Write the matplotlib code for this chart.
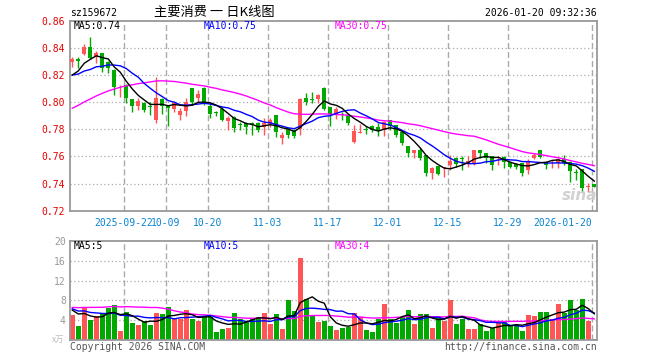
import numpy as np
import pandas as pd
import matplotlib
matplotlib.use("Agg")
import matplotlib.pyplot as plt

# daily candles, 2025-09-09 .. 2026-01-20 (88 trading days)
opens = [0.8298, 0.8316, 0.8352, 0.8404, 0.8330, 0.8360, 0.8298, 0.8237, 0.8123, 0.8126,
         0.8023, 0.7972, 0.7996, 0.7968, 0.7870, 0.8023, 0.7979, 0.7948, 0.7905, 0.7937,
         0.8102, 0.8028, 0.8107, 0.7972, 0.7920, 0.7947, 0.7860, 0.7890, 0.7832, 0.7844,
         0.7840, 0.7847, 0.7815, 0.7839, 0.7906, 0.7734, 0.7800, 0.7795, 0.7800, 0.8033,
         0.8018, 0.8023, 0.8105, 0.7962, 0.7910, 0.7905, 0.7905, 0.7705, 0.7775, 0.7800,
         0.7826, 0.7815, 0.7795, 0.7866, 0.7832, 0.7777, 0.7677, 0.7623, 0.7647, 0.7610,
         0.7475, 0.7530, 0.7513, 0.7537, 0.7590, 0.7588, 0.7544, 0.7544, 0.7647, 0.7622,
         0.7600, 0.7570, 0.7599, 0.7562, 0.7545, 0.7550, 0.7501, 0.7586, 0.7648, 0.7557,
         0.7548, 0.7550, 0.7584, 0.7562, 0.7486, 0.7505, 0.7375, 0.7397]
highs = [0.8330, 0.8330, 0.8428, 0.8477, 0.8380, 0.8360, 0.8300, 0.8245, 0.8128, 0.8135,
         0.8025, 0.8030, 0.8000, 0.8004, 0.8183, 0.8030, 0.7980, 0.8010, 0.7955, 0.8028,
         0.8105, 0.8087, 0.8115, 0.7990, 0.7935, 0.7967, 0.7901, 0.7895, 0.7855, 0.7856,
         0.7856, 0.7850, 0.7881, 0.7880, 0.7906, 0.7783, 0.7807, 0.7800, 0.8033, 0.8065,
         0.8077, 0.8057, 0.8110, 0.7965, 0.7962, 0.7930, 0.7910, 0.7830, 0.7840, 0.7822,
         0.7835, 0.7844, 0.7860, 0.7870, 0.7835, 0.7790, 0.7680, 0.7647, 0.7660, 0.7612,
         0.7525, 0.7532, 0.7520, 0.7611, 0.7595, 0.7600, 0.7600, 0.7647, 0.7650, 0.7625,
         0.7605, 0.7600, 0.7600, 0.7565, 0.7548, 0.7552, 0.7579, 0.7628, 0.7650, 0.7560,
         0.7574, 0.7591, 0.7611, 0.7565, 0.7505, 0.7507, 0.7406, 0.7400]
lows = [0.8260, 0.8250, 0.8347, 0.8315, 0.8286, 0.8220, 0.8212, 0.8053, 0.8040, 0.7991,
        0.7930, 0.7940, 0.7930, 0.7906, 0.7845, 0.7916, 0.7825, 0.7930, 0.7865, 0.7897,
        0.7980, 0.7998, 0.7980, 0.7881, 0.7900, 0.7861, 0.7795, 0.7783, 0.7795, 0.7766,
        0.7758, 0.7778, 0.7758, 0.7815, 0.7741, 0.7692, 0.7734, 0.7734, 0.7760, 0.7977,
        0.7997, 0.7996, 0.7945, 0.7825, 0.7874, 0.7870, 0.7832, 0.7698, 0.7771, 0.7768,
        0.7780, 0.7754, 0.7754, 0.7795, 0.7742, 0.7686, 0.7599, 0.7586, 0.7574, 0.7455,
        0.7431, 0.7460, 0.7446, 0.7500, 0.7523, 0.7500, 0.7525, 0.7535, 0.7586, 0.7549,
        0.7500, 0.7540, 0.7513, 0.7515, 0.7510, 0.7456, 0.7471, 0.7579, 0.7587, 0.7506,
        0.7513, 0.7513, 0.7540, 0.7415, 0.7426, 0.7340, 0.7340, 0.7377]
closes = [0.8318, 0.8301, 0.8404, 0.8323, 0.8360, 0.8254, 0.8249, 0.8110, 0.8128, 0.8028,
          0.7972, 0.8009, 0.7942, 0.7965, 0.8028, 0.7975, 0.7955, 0.7990, 0.7937, 0.8003,
          0.8004, 0.8060, 0.7995, 0.7913, 0.7918, 0.7869, 0.7884, 0.7812, 0.7830, 0.7814,
          0.7838, 0.7798, 0.7849, 0.7869, 0.7778, 0.7758, 0.7758, 0.7751, 0.8023, 0.8001,
          0.8016, 0.8053, 0.7950, 0.7913, 0.7950, 0.7903, 0.7844, 0.7785, 0.7778, 0.7795,
          0.7793, 0.7785, 0.7856, 0.7825, 0.7758, 0.7697, 0.7623, 0.7647, 0.7586, 0.7480,
          0.7512, 0.7470, 0.7520, 0.7563, 0.7544, 0.7584, 0.7563, 0.7647, 0.7622, 0.7586,
          0.7537, 0.7575, 0.7562, 0.7525, 0.7520, 0.7481, 0.7562, 0.7611, 0.7594, 0.7537,
          0.7550, 0.7579, 0.7550, 0.7489, 0.7481, 0.7365, 0.7379, 0.7377]
# volume, 万手
volumes = [5.07, 2.87, 6.40, 4.07, 4.87, 5.40, 6.53, 7.07, 1.93, 5.67,
           3.53, 3.07, 3.87, 3.07, 5.53, 5.27, 6.67, 4.40, 4.27, 6.07,
           4.27, 3.93, 4.87, 4.60, 1.73, 2.27, 2.53, 5.47, 4.20, 3.93,
           4.33, 4.60, 5.47, 3.33, 5.27, 2.27, 8.07, 5.87, 16.47, 8.33,
           4.87, 3.67, 3.93, 2.87, 2.07, 2.53, 2.73, 5.47, 4.60, 2.07,
           1.67, 4.27, 7.27, 4.20, 3.47, 4.60, 6.07, 3.27, 5.27, 5.27,
           2.47, 4.47, 3.87, 8.07, 3.27, 4.20, 2.27, 2.27, 3.33, 1.87,
           2.53, 3.53, 3.67, 3.00, 3.00, 1.93, 5.07, 4.87, 5.67, 5.67,
           4.20, 7.27, 5.53, 8.07, 6.07, 8.27, 3.87, 0.27]

# days before the window (estimated from where the MA lines start), only for the averages
prev_closes = [0.765, 0.766, 0.768, 0.767, 0.769, 0.770, 0.771, 0.772, 0.773, 0.774,
               0.775, 0.776, 0.777, 0.781, 0.795, 0.801, 0.808, 0.812, 0.819, 0.826,
               0.823, 0.818, 0.821, 0.816, 0.822, 0.815, 0.812, 0.818, 0.823]
prev_volumes = [4.2, 5.1, 3.8, 4.6, 4.9, 3.9, 4.4, 5.3, 4.1, 4.7,
                4.5, 4.3, 5.0, 5.05, 9.5, 12.8, 14.2, 11.6, 10.9, 11.85,
                7.4, 6.1, 7.2, 5.8, 6.42, 6.8, 5.9, 6.5, 6.08]

date_idx = [9, 16, 23, 33, 43, 53, 63, 73, 87]
date_labels = ["2025-09-22", "10-09", "10-20", "11-03", "11-17",
               "12-01", "12-15", "12-29", "2026-01-20"]
price_ticks = [0.72, 0.74, 0.76, 0.78, 0.80, 0.82, 0.84, 0.86]
vol_ticks = [4, 8, 12, 16, 20]

RED = "#ff5555"
GREEN = "#00a800"
GRID = "#aaaaaa"
MONO = "DejaVu Sans Mono"
CJK = ["Noto Sans CJK SC", "DejaVu Sans"]

o = np.array(opens); h = np.array(highs); l = np.array(lows); c = np.array(closes)
v = np.array(volumes)
n = len(c)
x = np.arange(n)
colors = np.where(c >= o, RED, GREEN)

all_c = pd.Series(prev_closes + closes)
all_v = pd.Series(prev_volumes + volumes)
k = len(prev_closes)
ma_p = {m: all_c.rolling(m).mean().values[k:] for m in (5, 10, 30)}
ma_v = {m: all_v.rolling(m).mean().values[k:] for m in (5, 10, 30)}
ma_colors = {5: "black", 10: "#0000ff", 30: "#ff00ff"}

W, H = 660, 360
fig = plt.figure(figsize=(W / 100, H / 100), dpi=100)

def px(xp, yp):
    return xp / W, 1 - yp / H

left, right = 70, 597
ax = fig.add_axes([left / W, 1 - 210.7 / H, (right - left) / W, 190 / H])
axv = fig.add_axes([left / W, 1 - 340.3 / H, (right - left) / W, 99.6 / H])

xlim = (-0.38, 87.45)
for a in (ax, axv):
    a.set_xlim(*xlim)
    for s in a.spines.values():
        s.set_color("#999999")
        s.set_linewidth(1.3)
    a.tick_params(length=0)
    for d in date_idx:
        a.axvline(d - 0.4, color=GRID, lw=1, ls=(0, (4.3, 2.2)), zorder=0)

# price panel
ax.set_ylim(0.72, 0.86)
ax.set_yticks(price_ticks)
ax.set_yticklabels(["%.2f" % t for t in price_ticks], color="#e60000",
                   fontfamily=MONO, fontsize=7)
ax.tick_params(axis="y", pad=4)
for t in price_ticks[1:-1]:
    ax.axhline(t, color=GRID, lw=0.9, ls=(0, (1, 2)), zorder=0)

ax.vlines(x, l, h, colors=colors, lw=1, zorder=2)
body_bottom = np.minimum(o, c)
body_h = np.maximum(np.abs(c - o), 0.0006)
ax.bar(x, body_h, 0.72, bottom=body_bottom, color=colors, lw=0, zorder=3)
for m in (30, 10, 5):
    ax.plot(x, ma_p[m], color=ma_colors[m], lw=1, zorder=4)

ax.set_xticks([d - 0.4 for d in date_idx])
ax.set_xticklabels(date_labels, color="#0a84d0", fontfamily=MONO, fontsize=7)
ax.tick_params(axis="x", pad=5)
ax.get_xticklabels()[-1].set_ha("right")

# volume panel
axv.set_ylim(0, 20)
axv.set_yticks(vol_ticks)
axv.set_yticklabels([str(t) for t in vol_ticks], color="#999999",
                    fontfamily=MONO, fontsize=7)
axv.tick_params(axis="y", pad=3)
axv.set_xticks([])
for t in vol_ticks[:-1]:
    axv.axhline(t, color=GRID, lw=0.9, ls=(0, (1, 2)), zorder=0)
axv.bar(x, v, 0.84, color=colors, lw=0, zorder=2)
for m in (30, 10, 5):
    axv.plot(x, ma_v[m], color=ma_colors[m], lw=1, zorder=3)

# texts
fig.text(*px(70, 12.5), "sz159672", fontfamily=MONO, fontsize=7, va="center")
fig.text(*px(214, 12.5), "主要消费 一 日K线图", family=CJK, fontsize=9.5,
         ha="center", va="center")
fig.text(*px(597, 12.5), "2026-01-20 09:32:36", fontfamily=MONO, fontsize=7,
         ha="right", va="center")

for xp, m in ((74, 5), (204, 10), (335, 30)):
    fig.text(*px(xp, 26.3), "MA%d:%.2f" % (m, ma_p[m][-1]), color=ma_colors[m],
             fontfamily=MONO, fontsize=7, va="center")
    fig.text(*px(xp, 246.3), "MA%d:%d" % (m, int(ma_v[m][-1])), color=ma_colors[m],
             fontfamily=MONO, fontsize=7, va="center")

fig.text(*px(64, 339), "x万", family=CJK, fontsize=6, color="#bbbbbb",
         ha="right", va="center")
fig.text(*px(70, 347), "Copyright 2026 SINA.COM", fontfamily=MONO, fontsize=7,
         color="#555555", va="center")
fig.text(*px(597, 347), "http://finance.sina.com.cn", fontfamily=MONO, fontsize=7,
         color="#555555", ha="right", va="center")
fig.text(*px(580, 196), "sina", fontsize=11, fontweight="bold", style="italic",
         color="#cccccc", ha="center", va="center", alpha=0.9)

fig.savefig("out.png", dpi=100)
